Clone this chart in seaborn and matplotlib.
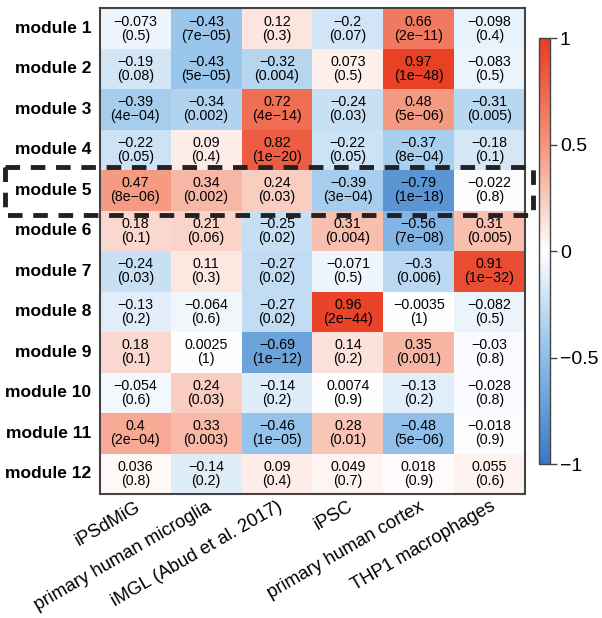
import numpy as np
import pandas as pd
import seaborn as sns
import matplotlib
matplotlib.use("Agg")
import matplotlib.pyplot as plt
from matplotlib.colors import LinearSegmentedColormap
from matplotlib.patches import Rectangle

modules = ["module %d" % i for i in range(1, 13)]
samples = ["iPSdMiG", "primary human microglia", "iMGL (Abud et al. 2017)",
           "iPSC", "primary human cortex", "THP1 macrophages"]

# correlation per module (rows) and sample (columns)
corr = [
    [-0.073, -0.43, 0.12, -0.2, 0.66, -0.098],
    [-0.19, -0.43, -0.32, 0.073, 0.97, -0.083],
    [-0.39, -0.34, 0.72, -0.24, 0.48, -0.31],
    [-0.22, 0.09, 0.82, -0.22, -0.37, -0.18],
    [0.47, 0.34, 0.24, -0.39, -0.79, -0.022],
    [0.18, 0.21, -0.25, 0.31, -0.56, 0.31],
    [-0.24, 0.11, -0.27, -0.071, -0.3, 0.91],
    [-0.13, -0.064, -0.27, 0.96, -0.0035, -0.082],
    [0.18, 0.0025, -0.69, 0.14, 0.35, -0.03],
    [-0.054, 0.24, -0.14, 0.0074, -0.13, -0.028],
    [0.4, 0.33, -0.46, 0.28, -0.48, -0.018],
    [0.036, -0.14, 0.09, 0.049, 0.018, 0.055],
]

# p-values as printed
pvals = [
    ["0.5", "7e-05", "0.3", "0.07", "2e-11", "0.4"],
    ["0.08", "5e-05", "0.004", "0.5", "1e-48", "0.5"],
    ["4e-04", "0.002", "4e-14", "0.03", "5e-06", "0.005"],
    ["0.05", "0.4", "1e-20", "0.05", "8e-04", "0.1"],
    ["8e-06", "0.002", "0.03", "3e-04", "1e-18", "0.8"],
    ["0.1", "0.06", "0.02", "0.004", "7e-08", "0.005"],
    ["0.03", "0.3", "0.02", "0.5", "0.006", "1e-32"],
    ["0.2", "0.6", "0.02", "2e-44", "1", "0.5"],
    ["0.1", "1", "1e-12", "0.2", "0.001", "0.8"],
    ["0.6", "0.03", "0.2", "0.9", "0.2", "0.8"],
    ["2e-04", "0.003", "1e-05", "0.01", "5e-06", "0.9"],
    ["0.8", "0.2", "0.4", "0.7", "0.9", "0.6"],
]

highlight = "module 5"

df = pd.DataFrame(corr, index=modules, columns=samples)
annot = np.array([["%s\n(%s)" % (str(r), p) for r, p in zip(rr, pp)]
                  for rr, pp in zip(corr, pvals)])
annot = np.char.replace(annot, "-", "\u2212")

cmap = LinearSegmentedColormap.from_list(
    "bwr_wgcna",
    [(0.0, "#3a78c4"), (0.25, "#8cbee8"), (0.5, "#ffffff"),
     (0.75, "#f4967d"), (1.0, "#e83d22")])

plt.rcParams["font.family"] = ["Liberation Sans", "DejaVu Sans"]

fig = plt.figure(figsize=(6.02, 6.18), dpi=100)
ax = fig.add_axes([0.166, 0.2006, 0.706, 0.786])
cax = fig.add_axes([0.896, 0.249, 0.018, 0.689])

sns.heatmap(df, ax=ax, cbar_ax=cax, cmap=cmap, vmin=-1, vmax=1,
            annot=annot, fmt="", annot_kws={"fontsize": 10.3, "color": "black",
                                            "linespacing": 1.0})

ax.tick_params(length=0, pad=6)
ax.set_yticklabels(modules, rotation=0, fontsize=12.5, fontweight="bold")
ax.set_xticklabels(samples, rotation=30, ha="right", rotation_mode="anchor",
                   fontsize=13.2)
ax.tick_params(axis="x", pad=3)
for s in ax.spines.values():
    s.set_visible(True)
    s.set_color("#444444")
    s.set_linewidth(1.5)

# dashed box around highlighted module
row = modules.index(highlight)
box = Rectangle((-1.34, row - 0.07), 7.45, 1.18, fill=False, edgecolor="#222222",
                linestyle=(0, (3, 2.2)), linewidth=3.5, clip_on=False, zorder=10)
ax.add_patch(box)

cbar = ax.collections[0].colorbar
cbar.set_ticks([1, 0.5, 0, -0.5, -1])
cbar.set_ticklabels(["1", "0.5", "0", "\u22120.5", "\u22121"])
cax.tick_params(labelsize=14, length=5, width=1, color="#444444", pad=2)
cbar.outline.set_visible(True)
cbar.outline.set_edgecolor("#444444")
cbar.outline.set_linewidth(1)

fig.savefig("out.png", dpi=100)
